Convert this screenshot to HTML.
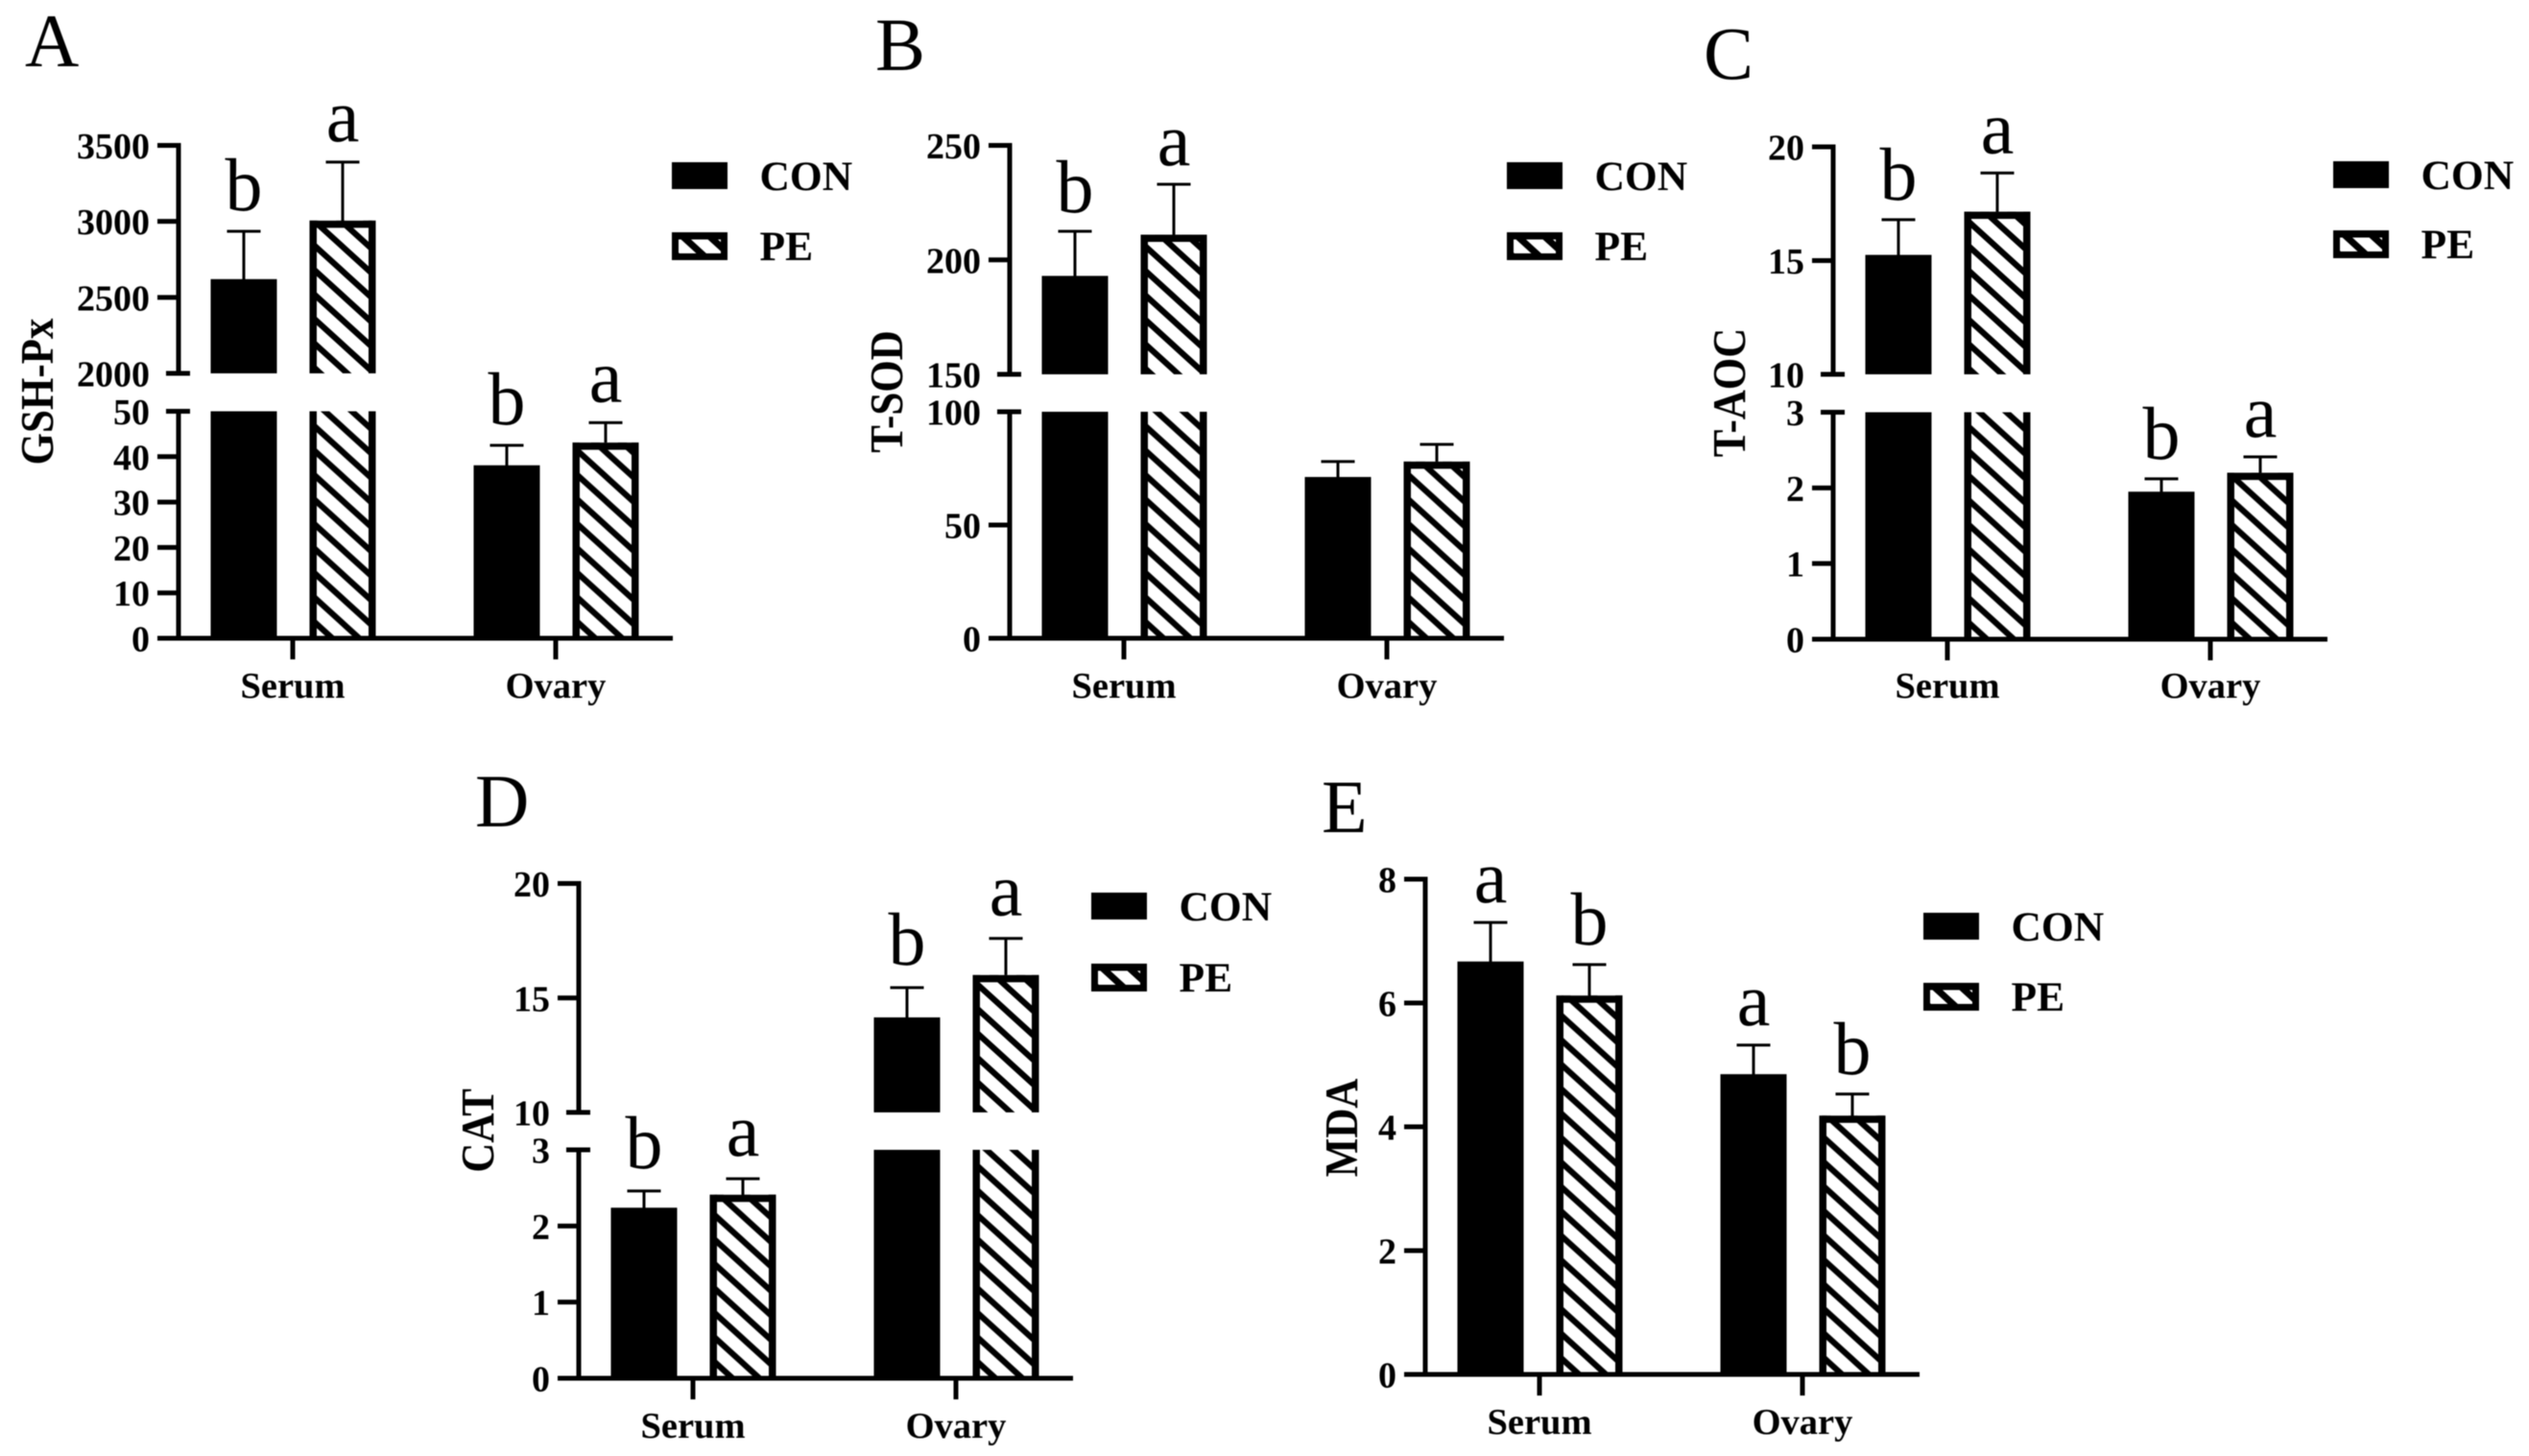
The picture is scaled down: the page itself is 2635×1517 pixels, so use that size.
<!DOCTYPE html>
<html lang="en">
<head>
<meta charset="utf-8">
<title>Antioxidant indices in serum and ovary</title>
<style>
html,body{margin:0;padding:0;background:#fff;}
svg{display:block;filter:blur(0.5px);}
text{font-family:"Liberation Serif",serif;fill:#000;}
.tick{font-size:38px;font-weight:bold;text-anchor:end;}
.cat{font-size:38.5px;font-weight:bold;text-anchor:middle;}
.ytitle{font-size:43px;font-weight:bold;text-anchor:middle;}
.legend{font-size:43.5px;font-weight:bold;}
.sig{font-size:78px;text-anchor:middle;}
.letter{font-size:78px;}
</style>
</head>
<body>
<svg id="figure" xmlns="http://www.w3.org/2000/svg" width="2635" height="1517" viewBox="0 0 2635 1517">
<rect width="2635" height="1517" fill="#fff"/>
<defs id="defs"></defs>
</svg>
<script>
const categories = ['Serum', 'Ovary'];
const seriesNames = ['CON', 'PE'];

const gshConValues = [2620, 38.1];
const gshPeValues = [3005, 43.1];
const gshConErrorTops = [2935, 42.5];
const gshPeErrorTops = [3390, 47.5];
const gshConLetters = ['b', 'b'];
const gshPeLetters = ['a', 'a'];
const gshLowerTicks = [0, 10, 20, 30, 40, 50];
const gshUpperTicks = [2000, 2500, 3000, 3500];

const sodConValues = [193, 71.2];
const sodPeValues = [211, 78];
const sodConErrorTops = [212.5, 78];
const sodPeErrorTops = [233, 85.6];
const sodConLetters = ['b', ''];
const sodPeLetters = ['a', ''];
const sodLowerTicks = [0, 50, 100];
const sodUpperTicks = [150, 200, 250];

const aocConValues = [15.25, 1.95];
const aocPeValues = [17.15, 2.2];
const aocConErrorTops = [16.8, 2.12];
const aocPeErrorTops = [18.85, 2.41];
const aocConLetters = ['b', 'b'];
const aocPeLetters = ['a', 'a'];
const aocLowerTicks = [0, 1, 2, 3];
const aocUpperTicks = [10, 15, 20];

const catConValues = [2.24, 14.15];
const catPeValues = [2.41, 16];
const catConErrorTops = [2.46, 15.45];
const catPeErrorTops = [2.62, 17.6];
const catConLetters = ['b', 'b'];
const catPeLetters = ['a', 'a'];
const catLowerTicks = [0, 1, 2, 3];
const catUpperTicks = [10, 15, 20];

const mdaConValues = [6.67, 4.85];
const mdaPeValues = [6.12, 4.18];
const mdaConErrorTops = [7.3, 5.32];
const mdaPeErrorTops = [6.62, 4.53];
const mdaConLetters = ['a', 'a'];
const mdaPeLetters = ['b', 'b'];
const mdaLowerTicks = [0, 2, 4, 6, 8];
const mdaUpperTicks = [];

const panels = [
  {key:'a', letter:'A', title:'GSH-Px', con:gshConValues, pe:gshPeValues, conErr:gshConErrorTops, peErr:gshPeErrorTops, conSig:gshConLetters, peSig:gshPeLetters, lower:gshLowerTicks, upper:gshUpperTicks,
   frame:{axisX:186, y0:665, lowerTop:428.5, upperBottom:389, upperTop:151.5, legendX:700, legendY:169, legendGap:73, titleX:55, titleY:408, letterX:26, letterY:69, catY:727, sigGap:22}},
  {key:'b', letter:'B', title:'T-SOD', con:sodConValues, pe:sodPeValues, conErr:sodConErrorTops, peErr:sodPeErrorTops, conSig:sodConLetters, peSig:sodPeLetters, lower:sodLowerTicks, upper:sodUpperTicks,
   frame:{axisX:1052, y0:665, lowerTop:429, upperBottom:390, upperTop:151.5, legendX:1570, legendY:169, legendGap:73, titleX:940, titleY:408, letterX:912, letterY:73, catY:727, sigGap:20}},
  {key:'c', letter:'C', title:'T-AOC', con:aocConValues, pe:aocPeValues, conErr:aocConErrorTops, peErr:aocPeErrorTops, conSig:aocConLetters, peSig:aocPeLetters, lower:aocLowerTicks, upper:aocUpperTicks,
   frame:{axisX:1910, y0:666, lowerTop:429.5, upperBottom:390, upperTop:153, legendX:2431, legendY:168, legendGap:72, titleX:1818, titleY:409, letterX:1775, letterY:82, catY:727, sigGap:21}},
  {key:'d', letter:'D', title:'CAT', con:catConValues, pe:catPeValues, conErr:catConErrorTops, peErr:catPeErrorTops, conSig:catConLetters, peSig:catPeLetters, lower:catLowerTicks, upper:catUpperTicks,
   frame:{axisX:603, y0:1436, lowerTop:1198, upperBottom:1159, upperTop:920.5, legendX:1137, legendY:930, legendGap:74, titleX:514, titleY:1178, letterX:495, letterY:861, catY:1498, sigGap:24}},
  {key:'e', letter:'E', title:'MDA', con:mdaConValues, pe:mdaPeValues, conErr:mdaConErrorTops, peErr:mdaPeErrorTops, conSig:mdaConLetters, peSig:mdaPeLetters, lower:mdaLowerTicks, upper:mdaUpperTicks,
   frame:{axisX:1485, y0:1432, lowerTop:916, upperBottom:null, upperTop:null, legendX:2004, legendY:951, legendGap:73, titleX:1414, titleY:1175, letterX:1377, letterY:867, catY:1494, sigGap:21}}
];

const NS = 'http://www.w3.org/2000/svg';
const root = document.getElementById('figure');
const defs = document.getElementById('defs');
let hatchCount = 0;

/* Diagonal stripe fill whose stripe passes through the given anchor point */
function makeHatch(anchorX, anchorY, strokeWidth) {
  hatchCount += 1;
  const id = 'hatch-' + hatchCount;
  const pat = document.createElementNS(NS, 'pattern');
  pat.setAttribute('id', id);
  pat.setAttribute('patternUnits', 'userSpaceOnUse');
  pat.setAttribute('width', 28);
  pat.setAttribute('height', 25.5);
  pat.setAttribute('patternTransform', 'translate(' + anchorX + ' ' + anchorY + ')');
  
  
  const bg = document.createElementNS(NS, 'rect');
  bg.setAttribute('width', 28);
  bg.setAttribute('height', 25.5);
  bg.setAttribute('fill', '#fff');
  pat.appendChild(bg);
  const stripes = document.createElementNS(NS, 'path');
  stripes.setAttribute('d', 'M-28,-25.5 L56,51 M-28,0 L28,51 M0,-25.5 L56,25.5');
  stripes.setAttribute('stroke', '#000');
  stripes.setAttribute('stroke-width', strokeWidth);
  stripes.setAttribute('fill', 'none');
  pat.appendChild(stripes);
  defs.appendChild(pat);
  return 'url(#' + id + ')';
}

function addGroup(parent, name) {
  const el = document.createElementNS(NS, 'g');
  
  
  parent.appendChild(el);
  return el;
}
function addRect(parent, x, y, w, h, fill, name) {
  const el = document.createElementNS(NS, 'rect');
  el.setAttribute('x', x);
  el.setAttribute('y', y);
  el.setAttribute('width', w);
  el.setAttribute('height', h);
  el.setAttribute('fill', fill);
  
  
  parent.appendChild(el);
  return el;
}
function addLine(parent, x1, y1, x2, y2, width, name) {
  const el = document.createElementNS(NS, 'line');
  el.setAttribute('x1', x1);
  el.setAttribute('y1', y1);
  el.setAttribute('x2', x2);
  el.setAttribute('y2', y2);
  el.setAttribute('stroke', '#000');
  el.setAttribute('stroke-width', width);
  
  
  parent.appendChild(el);
  return el;
}
function addText(parent, x, y, str, cls, name) {
  const el = document.createElementNS(NS, 'text');
  el.setAttribute('x', x);
  el.setAttribute('y', y);
  el.setAttribute('class', cls);
  
  
  el.textContent = str;
  parent.appendChild(el);
  return el;
}

/* Two-segment y axis: lower ticks fill y0..lowerTop, upper ticks fill upperBottom..upperTop */
function makeYScale(p) {
  const f = p.frame;
  const loMin = p.lower[0], loMax = p.lower[p.lower.length - 1];
  const hasUpper = p.upper.length > 0;
  const upMin = hasUpper ? p.upper[0] : null;
  const upMax = hasUpper ? p.upper[p.upper.length - 1] : null;
  return function (v) {
    if (hasUpper && v >= upMin) {
      return f.upperBottom - (v - upMin) / (upMax - upMin) * (f.upperBottom - f.upperTop);
    }
    return f.y0 - (Math.min(v, loMax) - loMin) / (loMax - loMin) * (f.y0 - f.lowerTop);
  };
}
function makeXScale(p) {
  return function (groupIndex) { return p.frame.axisX + 119 + 274 * groupIndex; };
}

function barSegments(p, value, y) {
  const f = p.frame;
  const loMax = p.lower[p.lower.length - 1];
  if (p.upper.length > 0 && value >= p.upper[0]) {
    return [
      {top: y(value), bottom: f.upperBottom, capped: true, phase: 3.5},
      {top: f.lowerTop, bottom: f.y0, capped: false, phase: 14.8}
    ];
  }
  return [{top: y(Math.min(value, loMax)), bottom: f.y0, capped: true, phase: 14.8}];
}

function drawHatchedBar(g, left, width, seg, name) {
  const edge = 7.5;
  const fill = makeHatch(left + edge, seg.bottom - seg.phase, 6.2);
  addRect(g, left, seg.top, width, seg.bottom - seg.top, fill, name + '-hatch');
  addRect(g, left, seg.top, edge, seg.bottom - seg.top, '#000', name + '-left-edge');
  addRect(g, left + width - edge, seg.top, edge, seg.bottom - seg.top, '#000', name + '-right-edge');
  if (seg.capped) addRect(g, left, seg.top, width, edge, '#000', name + '-top-edge');
}

function drawPeSwatch(g, x, y) {
  const fill = makeHatch(x + 23, y + 15, 7);
  addRect(g, x, y, 58, 29, fill, 'legend-swatch-pe-hatch');
  addRect(g, x, y, 58, 7.5, '#000', 'legend-swatch-pe-top-edge');
  addRect(g, x, y + 22, 58, 7, '#000', 'legend-swatch-pe-bottom-edge');
  addRect(g, x, y, 7, 29, '#000', 'legend-swatch-pe-left-edge');
  addRect(g, x + 51, y, 7, 29, '#000', 'legend-swatch-pe-right-edge');
}

function drawPanel(p) {
  const f = p.frame;
  const y = makeYScale(p);
  const x = makeXScale(p);
  const g = addGroup(root, 'panel-' + p.key);

  addText(g, f.letterX, f.letterY, p.letter, 'letter', 'panel-letter-' + p.key);

  const title = addText(g, 0, 0, p.title, 'ytitle', 'y-axis-title-' + p.key);
  title.setAttribute('transform', 'translate(' + f.titleX + ' ' + f.titleY + ') rotate(-90) scale(1 1.13)');

  /* bars, error bars, significance letters */
  const barWidth = 69;
  categories.forEach(function (cat, i) {
    const groupCenter = x(i);
    seriesNames.forEach(function (series, s) {
      const values = s === 0 ? p.con : p.pe;
      const errs = s === 0 ? p.conErr : p.peErr;
      const sigs = s === 0 ? p.conSig : p.peSig;
      const center = groupCenter + (s === 0 ? -51 : 52);
      const base = 'bar-' + p.key + '-' + cat.toLowerCase() + '-' + series.toLowerCase();
      const errY = y(errs[i]);
      addLine(g, center, errY, center, y(values[i]) + 3, 3, base + '-error-stem');
      addLine(g, center - 17.5, errY, center + 17.5, errY, 3, base + '-error-cap');
      barSegments(p, values[i], y).forEach(function (seg, k) {
        const segName = base + '-segment-' + k;
        if (s === 0) {
          addRect(g, center - barWidth / 2, seg.top, barWidth, seg.bottom - seg.top, '#000', segName);
        } else {
          drawHatchedBar(g, center - barWidth / 2, barWidth, seg, segName);
        }
      });
      if (sigs[i]) {
        addText(g, center, errY - f.sigGap, sigs[i], 'sig', base + '-significance');
      }
    });
    addLine(g, groupCenter, f.y0, groupCenter, f.y0 + 22, 5, 'x-tick-' + p.key + '-' + cat.toLowerCase());
    addText(g, groupCenter, f.catY, cat, 'cat', 'x-label-' + p.key + '-' + cat.toLowerCase());
  });

  /* axes */
  addLine(g, f.axisX, f.y0 + 2.5, f.axisX, f.lowerTop - 2.5, 5, 'y-axis-lower-' + p.key);
  addLine(g, f.axisX - 22, f.y0, f.axisX + 515, f.y0, 5, 'x-axis-' + p.key);
  const broken = p.upper.length > 0;
  if (broken) {
    addLine(g, f.axisX, f.upperBottom + 2.5, f.axisX, f.upperTop - 2.5, 5, 'y-axis-upper-' + p.key);
  }
  p.lower.forEach(function (t, i) {
    const ty = y(t);
    const isBreak = broken && i === p.lower.length - 1;
    addLine(g, f.axisX - (isBreak ? 13 : 22), ty, f.axisX + (isBreak ? 12 : 0), ty, 5, 'y-tick-' + p.key + '-' + t);
    addText(g, f.axisX - 30, ty + 13.5, String(t), 'tick', 'y-tick-label-' + p.key + '-' + t);
  });
  p.upper.forEach(function (t, i) {
    const ty = y(t);
    const isBreak = i === 0;
    addLine(g, f.axisX - (isBreak ? 13 : 22), ty, f.axisX + (isBreak ? 12 : 0), ty, 5, 'y-tick-' + p.key + '-' + t);
    addText(g, f.axisX - 30, ty + 13.5, String(t), 'tick', 'y-tick-label-' + p.key + '-' + t);
  });

  /* legend */
  const lg = addGroup(g, 'legend-' + p.key);
  seriesNames.forEach(function (series, s) {
    const ly = f.legendY + s * f.legendGap;
    const entry = addGroup(lg, 'legend-entry-' + p.key + '-' + series.toLowerCase());
    if (s === 0) {
      addRect(entry, f.legendX, ly, 58, 28, '#000', 'legend-swatch-con');
    } else {
      drawPeSwatch(entry, f.legendX, ly);
    }
    addText(entry, f.legendX + 91.5, ly + 29, series, 'legend', 'legend-label-' + series.toLowerCase());
  });
}

panels.forEach(drawPanel);
</script>
</body>
</html>
